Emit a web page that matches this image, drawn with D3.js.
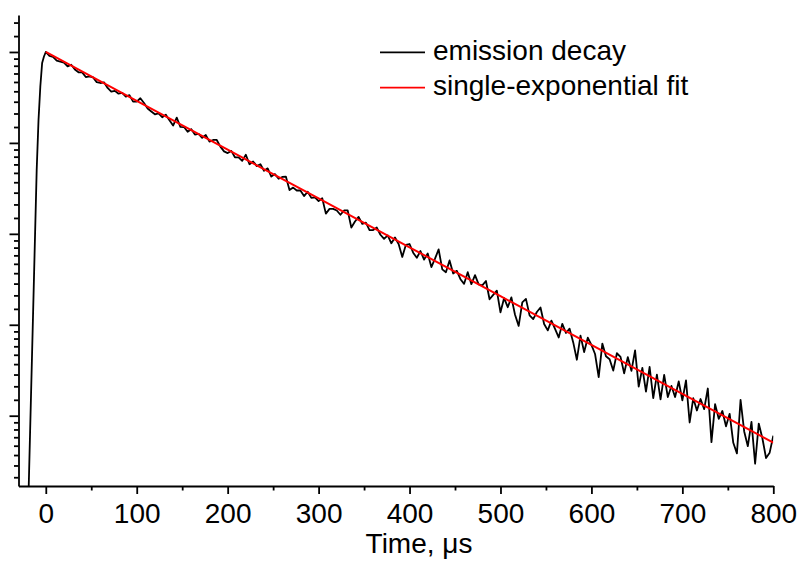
<!DOCTYPE html>
<html>
<head>
<meta charset="utf-8">
<script src="https://cdn.jsdelivr.net/npm/d3@7"></script>
<style>
  html, body { margin: 0; padding: 0; background: #fff; }
  svg { display: block; }
  text { font-family: "Liberation Sans", Arial, sans-serif; fill: #000; }
</style>
</head>
<body>
<svg id="chart" width="802" height="563"></svg>
<script>
// Emission decay trace (normalised intensity) and its single-exponential fit.

// Rising edge of the excitation pulse (µs, intensity)
const riseTimes = [-20, -10, -8, -6, -4, -2];
const riseValues = [0.00514, 0.273, 0.472, 0.684, 0.887, 0.951];

// Decay sampled every 4 µs from 0 to 800 µs
const decayStart = 0;
const decayStep = 4;
const decayValues = [
  1.000, 0.959, 0.948, 0.910, 0.899,
  0.889, 0.853, 0.869, 0.825, 0.800,
  0.799, 0.759, 0.765, 0.756, 0.718,
  0.711, 0.716, 0.673, 0.646, 0.652,
  0.632, 0.637, 0.612, 0.622, 0.579,
  0.579, 0.601, 0.571, 0.537, 0.520,
  0.504, 0.509, 0.488, 0.502, 0.472,
  0.445, 0.486, 0.439, 0.438, 0.416,
  0.428, 0.403, 0.406, 0.389, 0.401,
  0.373, 0.380, 0.380, 0.353, 0.335,
  0.329, 0.337, 0.314, 0.314, 0.302,
  0.323, 0.291, 0.300, 0.285, 0.291,
  0.271, 0.278, 0.254, 0.261, 0.248,
  0.253, 0.254, 0.219, 0.225, 0.218,
  0.218, 0.205, 0.215, 0.201, 0.202,
  0.194, 0.200, 0.169, 0.178, 0.178,
  0.175, 0.167, 0.175, 0.175, 0.145,
  0.155, 0.163, 0.151, 0.153, 0.141,
  0.141, 0.145, 0.134, 0.128, 0.133,
  0.122, 0.130, 0.121, 0.105, 0.120,
  0.121, 0.110, 0.104, 0.112, 0.102,
  0.109, 0.0939, 0.103, 0.114, 0.0916,
  0.0887, 0.101, 0.0875, 0.0901, 0.0822,
  0.0781, 0.0888, 0.0778, 0.0859, 0.0776,
  0.0768, 0.0806, 0.0659, 0.0692, 0.0725,
  0.0571, 0.0668, 0.0604, 0.0673, 0.0556,
  0.0492, 0.0637, 0.0662, 0.0552, 0.0530,
  0.0573, 0.0602, 0.0502, 0.0468, 0.0521,
  0.0476, 0.0433, 0.0503, 0.0455, 0.0477,
  0.0410, 0.0339, 0.0442, 0.0369, 0.0432,
  0.0399, 0.0361, 0.0280, 0.0405, 0.0352,
  0.0341, 0.0301, 0.0364, 0.0350, 0.0292,
  0.0349, 0.0300, 0.0376, 0.0252, 0.0310,
  0.0239, 0.0313, 0.0222, 0.0288, 0.0219,
  0.0287, 0.0225, 0.0254, 0.0225, 0.0267,
  0.0217, 0.0270, 0.0170, 0.0222, 0.0194,
  0.0220, 0.0197, 0.0247, 0.0137, 0.0208,
  0.0177, 0.0193, 0.0163, 0.0187, 0.0136,
  0.0121, 0.0218, 0.0154, 0.0131, 0.0171,
  0.0108, 0.0168, 0.0143, 0.0115, 0.0122,
  0.0147
];

// Single-exponential fit (τ ≈ 186 µs)
const fitTimes = [0, 100, 200, 300, 400, 500, 600, 700, 800];
const fitValues = [1, 0.5845, 0.3416, 0.1997, 0.1167, 0.0682, 0.0399, 0.0233, 0.01362];

// Axis ticks
const xMajorTicks = [0, 100, 200, 300, 400, 500, 600, 700, 800];
const xMinorTicks = [50, 150, 250, 350, 450, 550, 650, 750];
const yDecades = [-5, -4, -3, -2, -1, 0];   // powers of e

const seriesNames = ["emission decay", "single-exponential fit"];
const seriesColors = ["#000000", "#ff0000"];

// ---------------------------------------------------------------
(function draw() {
  const svg = d3.select("#chart");
  const plotLeft = 18.5, plotRight = 773.3, plotTop = 15, plotBottom = 486;
  const fontSize = 28;

  const x = d3.scaleLinear().domain([-30, 800]).range([plotLeft, plotRight]);
  const y = d3.scaleLog().base(Math.E)
    .domain([Math.exp(-4.773), Math.exp(0.4066)])
    .range([plotBottom, plotTop]);

  const decay = riseTimes.map((t, i) => [t, riseValues[i]])
    .concat(decayValues.map((v, i) => [decayStart + i * decayStep, v]));
  const fit = fitTimes.map((t, i) => [t, fitValues[i]]);

  svg.append("defs").append("clipPath").attr("id", "plot-clip")
    .append("rect").attr("x", plotLeft).attr("y", plotTop)
    .attr("width", plotRight - plotLeft).attr("height", plotBottom - plotTop);

  const line = d3.line().x(d => x(d[0])).y(d => y(d[1]));
  const plot = svg.append("g").attr("clip-path", "url(#plot-clip)");

  plot.append("path").datum(decay)
    .attr("d", line).attr("fill", "none")
    .attr("stroke", seriesColors[0]).attr("stroke-width", 1.8)
    .attr("stroke-linejoin", "round");

  plot.append("path").datum(fit)
    .attr("d", line).attr("fill", "none")
    .attr("stroke", seriesColors[1]).attr("stroke-width", 2);

  // Y axis: major ticks at powers of e, minor ticks at linear steps between them
  const yMajor = yDecades.map(n => Math.exp(n));
  const yMinor = [];
  yDecades.forEach(n => {
    for (let k = 1; k <= 8; k++) yMinor.push(Math.exp(n) * (1 + k * (Math.E - 1) / 9));
  });
  const [yLo, yHi] = y.domain();
  const inY = v => v >= yLo && v <= yHi;

  function styleAxis(g) {
    g.selectAll("line").attr("stroke", "#000").attr("stroke-width", 1.8);
    g.selectAll("path.domain").attr("stroke", "#000").attr("stroke-width", 1.8);
  }

  svg.append("g").attr("transform", `translate(${plotLeft},0)`)
    .call(d3.axisLeft(y).tickValues(yMinor.filter(inY)).tickSize(4.5).tickSizeOuter(0).tickFormat(""))
    .call(g => g.select("path.domain").remove())
    .call(styleAxis);

  svg.append("g").attr("transform", `translate(${plotLeft},0)`)
    .call(d3.axisLeft(y).tickValues(yMajor.filter(inY)).tickSize(9).tickSizeOuter(0).tickFormat(""))
    .call(styleAxis);

  // X axis
  svg.append("g").attr("transform", `translate(0,${plotBottom})`)
    .call(d3.axisBottom(x).tickValues(xMinorTicks).tickSize(4.5).tickSizeOuter(0).tickFormat(""))
    .call(g => g.select("path.domain").remove())
    .call(styleAxis);

  const xAxis = svg.append("g").attr("transform", `translate(0,${plotBottom})`)
    .call(d3.axisBottom(x).tickValues(xMajorTicks).tickSize(8).tickSizeOuter(0).tickFormat(d3.format("d")))
    .call(styleAxis);
  xAxis.selectAll("text")
    .attr("font-size", fontSize).attr("fill", "#000")
    .attr("font-family", "'Liberation Sans', Arial, sans-serif")
    .attr("dy", null).attr("y", 37);

  svg.append("text")
    .attr("x", 419).attr("y", 553)
    .attr("text-anchor", "middle").attr("font-size", fontSize)
    .text("Time, μs");

  // Legend
  const legend = svg.append("g");
  seriesNames.forEach((name, i) => {
    const yy = 52.3 + i * 35.4;
    legend.append("line")
      .attr("x1", 380).attr("x2", 425).attr("y1", yy).attr("y2", yy)
      .attr("stroke", seriesColors[i]).attr("stroke-width", 1.8);
    legend.append("text")
      .attr("x", 433).attr("y", yy + 7.5)
      .attr("font-size", fontSize)
      .text(name);
  });
})();
</script>
</body>
</html>
